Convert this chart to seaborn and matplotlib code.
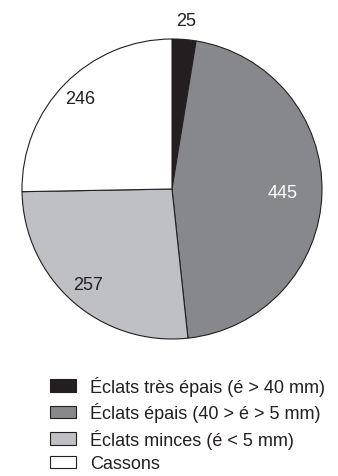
import numpy as np
import matplotlib
matplotlib.use("Agg")
import matplotlib.pyplot as plt
import seaborn as sns
from matplotlib.patches import Patch

sns.set_theme(style="white")
plt.rcParams['font.family'] = ['Liberation Sans', 'DejaVu Sans']

categories = [
    "Éclats très épais (é > 40 mm)",
    "Éclats épais (40 > é > 5 mm)",
    "Éclats minces (é < 5 mm)",
    "Cassons",
]
counts = [25, 445, 257, 246]
colors = ["#231f20", "#87888b", "#bfc0c3", "#ffffff"]
label_colors = ["#231f20", "#ffffff", "#231f20", "#231f20"]
label_radius = [1.13, 0.74, 0.85, 0.86]

fig = plt.figure(figsize=(3.38, 4.77), dpi=100)
ax = fig.add_axes([22 / 338, 1 - 340 / 477, 300 / 338, 300 / 477])

wedges, _ = ax.pie(
    counts, colors=colors, startangle=90, counterclock=False,
    radius=1.0,
    wedgeprops=dict(edgecolor="#231f20", linewidth=0.8),
)
ax.set_xlim(-1, 1)
ax.set_ylim(-1, 1)
ax.set_aspect("equal")
ax.axis("off")

total = float(np.sum(counts))
cum = np.cumsum(counts) - np.array(counts) / 2.0
for c, mid, r, col in zip(counts, cum, label_radius, label_colors):
    ang = np.deg2rad(90 - mid / total * 360)
    ax.text(r * np.cos(ang), r * np.sin(ang), str(c), ha="center", va="center",
            fontsize=13, color=col, clip_on=False)

handles = [Patch(facecolor=col, edgecolor="#231f20", linewidth=0.8) for col in colors]
fig.legend(handles, categories, loc="upper left",
           bbox_to_anchor=(50 / 338, 1 - 377 / 477), frameon=False,
           fontsize=13, handlelength=1.45, handleheight=0.68,
           labelspacing=0.36, handletextpad=0.78, borderpad=0, borderaxespad=0,
           labelcolor="#231f20")

fig.savefig("out.png", dpi=100)
